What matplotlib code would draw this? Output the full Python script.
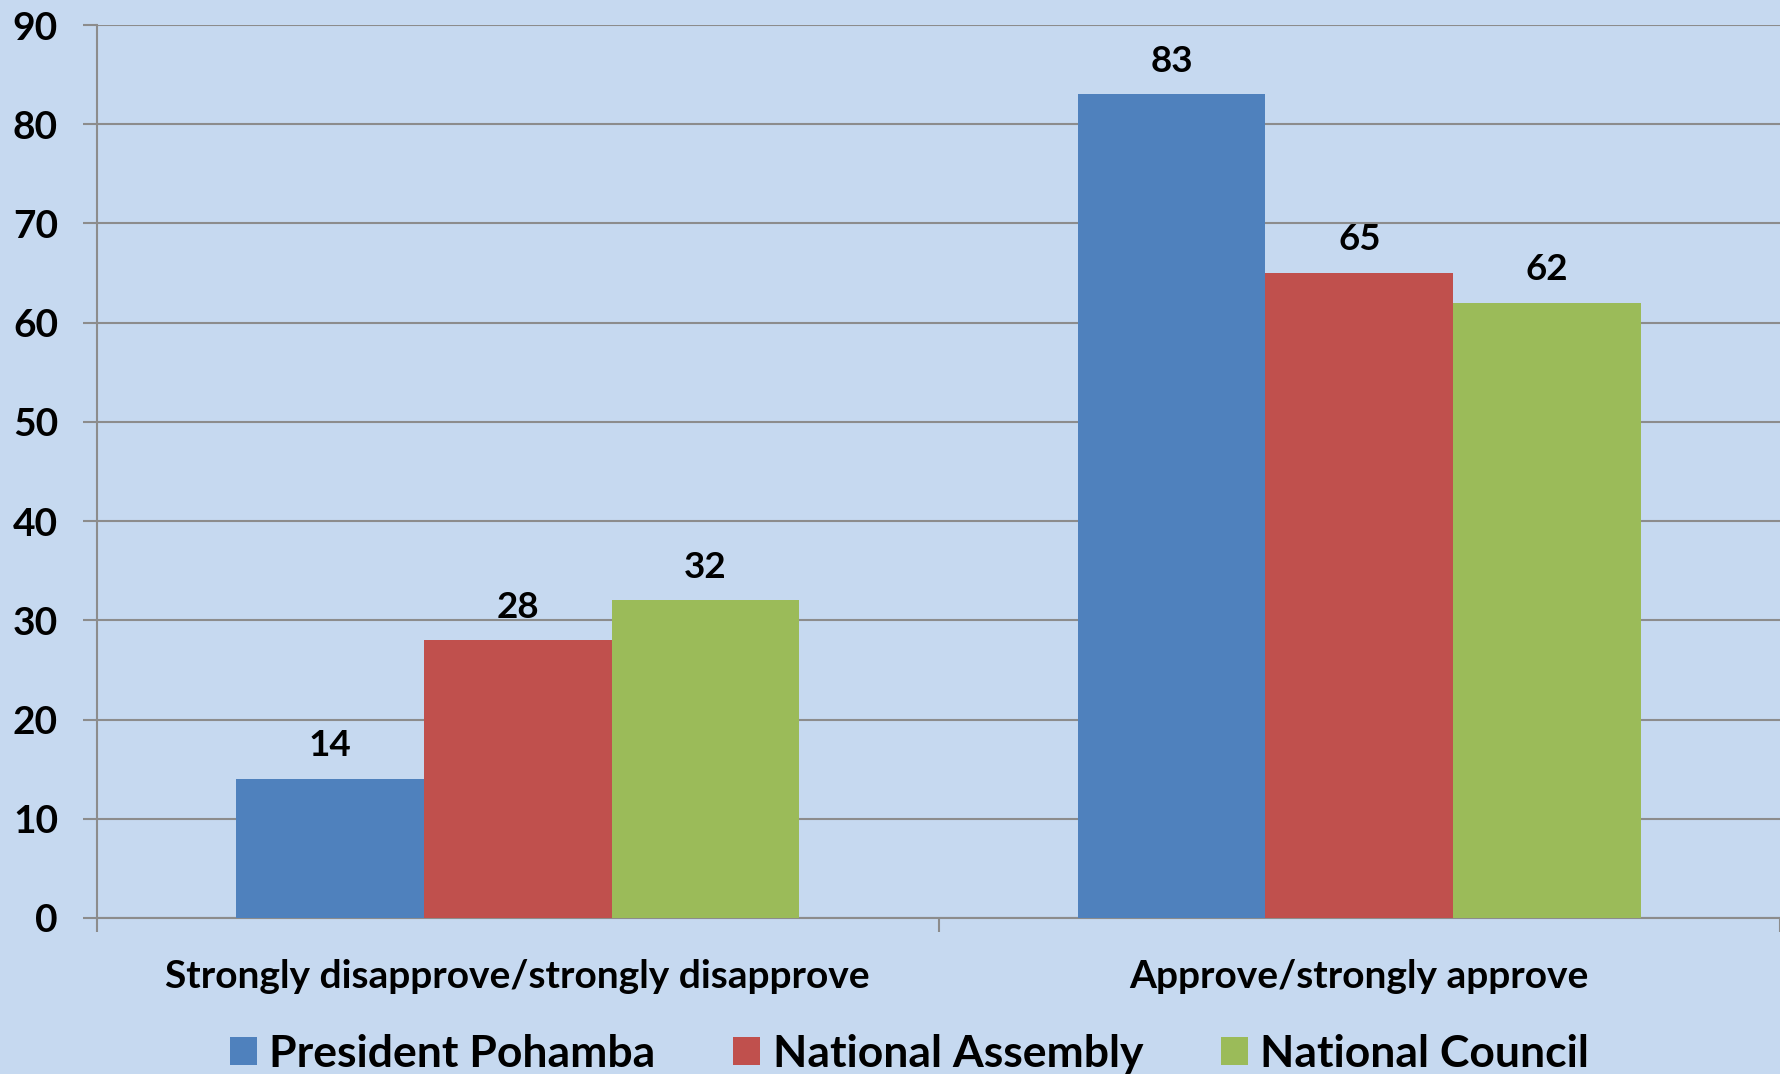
import numpy as np
import matplotlib
matplotlib.use("Agg")
import matplotlib.pyplot as plt
from matplotlib.patches import Patch

plt.rcParams['font.family'] = ['Lato', 'DejaVu Sans']
plt.rcParams['font.weight'] = 'bold'

categories = ["Strongly disapprove/strongly disapprove", "Approve/strongly approve"]
series_names = ["President Pohamba", "National Assembly", "National Council"]
president = [14, 83]
assembly = [28, 65]
council = [32, 62]

colors = ["#4F81BD", "#C0504D", "#9BBB59"]
bg = "#C6D9F0"
grid_col = "#8C8C8C"

fig = plt.figure(figsize=(17.8, 10.74), dpi=100, facecolor=bg)
ax = fig.add_axes([97 / 1780, 156 / 1074, 1 - 97 / 1780, (918 - 25) / 1074])
ax.set_facecolor(bg)

x = np.arange(len(categories))
width = 0.223
for j, (vals, name) in enumerate(zip([president, assembly, council], series_names)):
    bars = ax.bar(x + (j - 1) * width, vals, width, color=colors[j], label=name, zorder=3)
    ax.bar_label(bars, padding=12, fontsize=26.5, fontweight='bold')

ax.set_xlim(-0.5, 1.5)
ax.set_ylim(0, 90)
ax.set_yticks(np.arange(0, 91, 10))
ax.yaxis.grid(True, color=grid_col, linewidth=1.5, zorder=0)
ax.set_axisbelow(True)

ax.set_xticks(x)
ax.set_xticklabels(categories, fontsize=28, fontweight='bold')
ax.set_xticks([-0.5, 0.5, 1.5], minor=True)
ax.tick_params(axis='x', which='major', length=0, pad=29.5)
ax.tick_params(axis='x', which='minor', length=10, color=grid_col, width=1.5)
ax.tick_params(axis='y', length=10, color=grid_col, width=1.5, pad=18, labelsize=28)
for lab in ax.get_yticklabels():
    lab.set_fontweight('bold')

for s in ['top', 'right']:
    ax.spines[s].set_visible(False)
for s in ['left', 'bottom']:
    ax.spines[s].set_color(grid_col)
    ax.spines[s].set_linewidth(1.5)

handles = [Patch(facecolor=c) for c in colors]
fig.legend(handles, series_names, loc='center', bbox_to_anchor=(0.511, 0.019),
           ncol=3, frameon=False, prop={'weight': 'bold', 'size': 32},
           handlelength=0.6, handleheight=0.6, handletextpad=0.28, columnspacing=1.75)

fig.savefig("out.png", dpi=100, facecolor=bg)
